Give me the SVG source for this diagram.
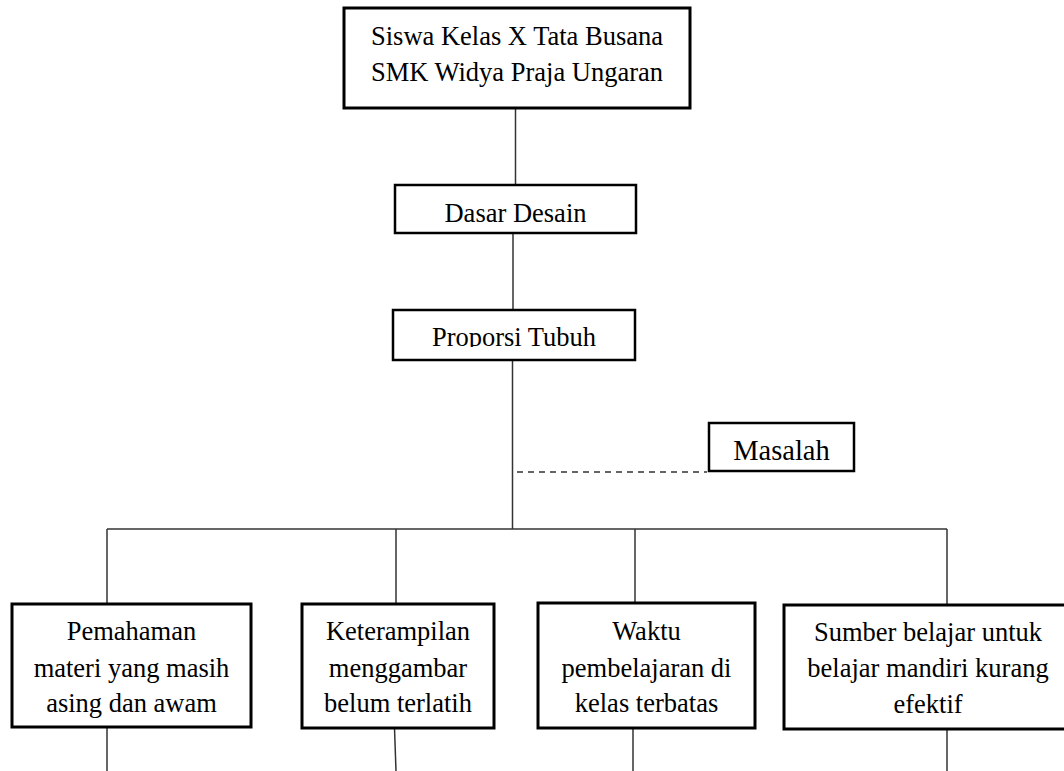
<svg xmlns="http://www.w3.org/2000/svg" width="1064" height="771" viewBox="0 0 1064 771">
<style>
.box{fill:#fff;stroke:#000;stroke-width:3}
.box2{fill:#fff;stroke:#000;stroke-width:2.5}
.t{font-family:"Liberation Serif","Times New Roman",serif;font-size:26.5px;fill:#000;text-anchor:middle}
.c{stroke:#333;stroke-width:1.5;fill:none}
.d{stroke:#333;stroke-width:1.5;fill:none;stroke-dasharray:6,5}
</style>
<defs>
<clipPath id="clipP"><rect x="393" y="308" width="242" height="39"/></clipPath>
</defs>
<rect width="1064" height="771" fill="#fff"/>
<g id="connectors">
<line class="c" x1="515.5" y1="108" x2="515.5" y2="186"/>
<line class="c" x1="513" y1="233" x2="513" y2="310"/>
<line class="c" x1="512.5" y1="360" x2="512.5" y2="529"/>
<line class="d" x1="517" y1="472" x2="707" y2="472"/>
<line class="c" x1="107" y1="529" x2="947" y2="529"/>
<line class="c" x1="107" y1="529" x2="107" y2="604"/>
<line class="c" x1="396" y1="529" x2="396" y2="604"/>
<line class="c" x1="635" y1="529" x2="635" y2="603"/>
<line class="c" x1="947" y1="529" x2="947" y2="605"/>
<line class="c" x1="107" y1="727" x2="107" y2="771"/>
<line class="c" x1="394.5" y1="728" x2="396" y2="771"/>
<line class="c" x1="633" y1="728" x2="633" y2="771"/>
<line class="c" x1="947" y1="729" x2="947" y2="771"/>
</g>
<g id="node-siswa">
<rect class="box" x="344" y="8" width="346" height="100"/>
<text class="t" x="517" y="45">Siswa Kelas X Tata Busana</text>
<text class="t" x="517" y="81">SMK Widya Praja Ungaran</text>
</g>
<g id="node-dasar">
<rect class="box2" x="395" y="185" width="241" height="48"/>
<text class="t" x="515.5" y="222">Dasar Desain</text>
</g>
<g id="node-proporsi">
<rect class="box2" x="393" y="310" width="242" height="50"/>
<text class="t" x="514" y="346" clip-path="url(#clipP)">Proporsi Tubuh</text>
</g>
<g id="node-masalah">
<rect class="box2" x="709" y="423" width="145" height="48"/>
<text class="t" x="781.5" y="460" style="font-size:28.5px">Masalah</text>
</g>
<g id="node-pemahaman">
<rect class="box" x="12" y="604" width="239" height="123"/>
<text class="t" x="131.5" y="640">Pemahaman</text>
<text class="t" x="131.5" y="677">materi yang masih</text>
<text class="t" x="131.5" y="712">asing dan awam</text>
</g>
<g id="node-keterampilan">
<rect class="box" x="302" y="604" width="192" height="124"/>
<text class="t" x="398" y="640">Keterampilan</text>
<text class="t" x="398" y="677">menggambar</text>
<text class="t" x="398" y="712">belum terlatih</text>
</g>
<g id="node-waktu">
<rect class="box" x="538" y="603" width="217" height="125"/>
<text class="t" x="646.5" y="640">Waktu</text>
<text class="t" x="646.5" y="677">pembelajaran di</text>
<text class="t" x="646.5" y="712">kelas terbatas</text>
</g>
<g id="node-sumber">
<rect class="box" x="784" y="605" width="290" height="124"/>
<text class="t" x="928" y="641">Sumber belajar untuk</text>
<text class="t" x="928" y="677">belajar mandiri kurang</text>
<text class="t" x="928" y="713">efektif</text>
</g>
</svg>
